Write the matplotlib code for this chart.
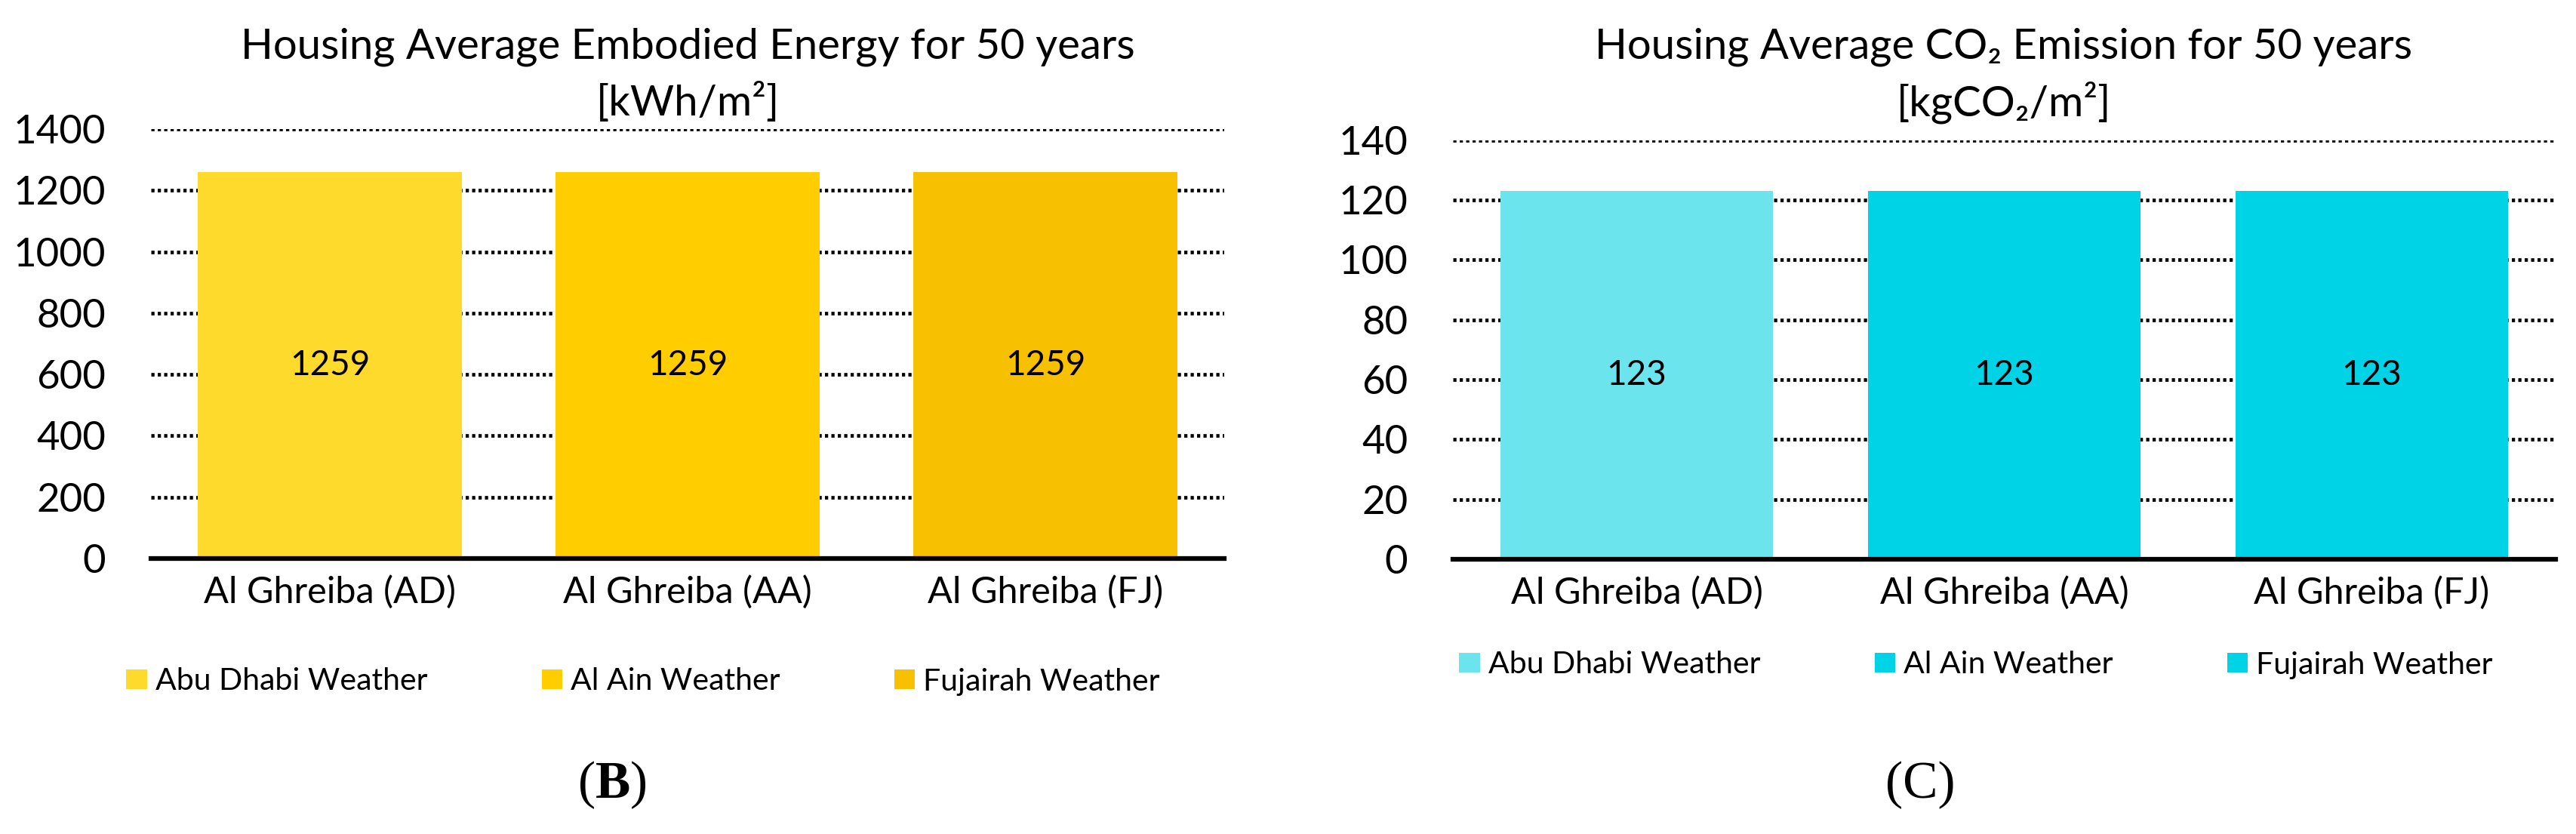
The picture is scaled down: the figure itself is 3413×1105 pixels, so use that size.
import numpy as np
import matplotlib
matplotlib.use("Agg")
import matplotlib.pyplot as plt
from matplotlib.patches import Patch

plt.rcParams['font.family'] = ['Lato', 'DejaVu Sans']
plt.rcParams['mathtext.fontset'] = 'custom'
plt.rcParams['mathtext.rm'] = 'Liberation Serif'
plt.rcParams['mathtext.bf'] = 'Liberation Serif:bold'

# data
categories = ['Al Ghreiba (AD)', 'Al Ghreiba (AA)', 'Al Ghreiba (FJ)']
series = ['Abu Dhabi Weather', 'Al Ain Weather', 'Fujairah Weather']
energy = [1259, 1259, 1259]
co2 = [123, 123, 123]
energy_ticks = [0, 200, 400, 600, 800, 1000, 1200, 1400]
co2_ticks = [0, 20, 40, 60, 80, 100, 120, 140]

energy_colors = ['#FDDA2C', '#FFCD00', '#F7C000']
co2_colors = ['#6CE4EE', '#00D3E6', '#00D3E6']

W, H = 3413, 1105
fig = plt.figure(figsize=(W / 100, H / 100), dpi=100)

def px_axes(x0, x1, ytop, ybot):
    return fig.add_axes([x0 / W, (H - ybot) / H, (x1 - x0) / W, (ybot - ytop) / H])

ax1 = px_axes(200, 1622, 171, 740)
ax2 = px_axes(1925, 3386, 185.5, 741)


def draw_panel(ax, values, colors, ticks, ymax):
    x = np.arange(len(categories))
    bars = ax.bar(x, values, width=0.74, color=colors, zorder=2)
    for b, v in zip(bars, values):
        ax.text(b.get_x() + b.get_width() / 2, v / 2, str(v), ha='center', va='center',
                fontsize=33, zorder=3)
    ax.set_xlim(-0.5, len(categories) - 0.5)
    ax.set_ylim(0, ymax)
    ax.set_yticks(ticks)
    ax.set_xticks(x)
    ax.set_xticklabels(categories, fontsize=35)
    ax.tick_params(axis='y', labelsize=38, length=0, pad=43)
    ax.tick_params(axis='x', length=0, pad=16)
    ax.set_axisbelow(True)
    ax.yaxis.grid(True, color='black', linewidth=3.4, linestyle=(0, (0.9, 0.9)))
    for s in ['left', 'right', 'top']:
        ax.spines[s].set_visible(False)
    ax.spines['bottom'].set_linewidth(4.5)
    ax.spines['bottom'].set_zorder(4)
    return bars


draw_panel(ax1, energy, energy_colors, energy_ticks, 1400)
draw_panel(ax2, co2, co2_colors, co2_ticks, 140)

# titles
fig.text(911 / W, 1 - 78 / H, 'Housing Average Embodied Energy for 50 years',
         ha='center', va='baseline', fontsize=40.5)
fig.text(911 / W, 1 - 153 / H, '[kWh/m²]', ha='center', va='baseline', fontsize=40.5)
fig.text(2655 / W, 1 - 78 / H, 'Housing Average CO₂ Emission for 50 years',
         ha='center', va='baseline', fontsize=40.5)
fig.text(2655 / W, 1 - 153 / H, '[kgCO₂/m²]', ha='center', va='baseline', fontsize=40.5)

# legends
def add_legend(colors, cx, cy):
    handles = [Patch(facecolor=c, edgecolor='none') for c in colors]
    fig.legend(handles, series, loc='center', bbox_to_anchor=(cx / W, 1 - cy / H),
               ncol=3, frameon=False, fontsize=29.5, handlelength=0.66,
               handleheight=0.63, handletextpad=0.27, columnspacing=3.7)

add_legend(energy_colors, 852, 903)
add_legend(co2_colors, 2618, 881)

# panel labels
fig.text(811 / W, 1 - 1040 / H, r'($\mathbf{B}$)', ha='center', va='center',
         fontsize=50, family='Liberation Serif')
fig.text(2544 / W, 1 - 1040 / H, '(C)', ha='center', va='center',
         fontsize=50, family='Liberation Serif')

fig.savefig('out.png', dpi=100)
